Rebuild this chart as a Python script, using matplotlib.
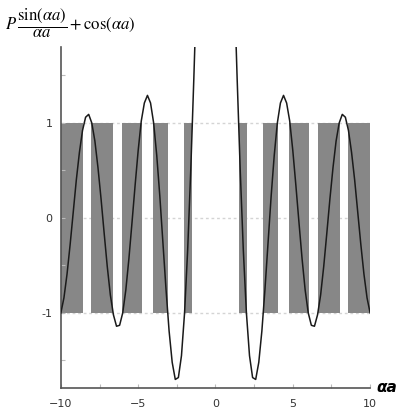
import numpy as np
import matplotlib
matplotlib.use('Agg')
import matplotlib.pyplot as plt

plt.rcParams['mathtext.fontset'] = 'stix'

# curve (right half, x >= 1); the curve is even, left half mirrors it
x_right = [1, 1.2, 1.4, 1.6, 1.8, 2, 2.2, 2.4, 2.6, 2.8, 3, 3.2, 3.4, 3.6, 3.8, 4,
           4.2, 4.4, 4.6, 4.8, 5, 5.2, 5.4, 5.6, 5.8, 6, 6.2, 6.4, 6.6, 6.8, 7, 7.2,
           7.4, 7.6, 7.8, 8, 8.2, 8.4, 8.6, 8.8, 9, 9.2, 9.4, 9.6, 9.8, 10]
y_right = [3.57, 2.52, 1.47, 0.50, -0.34, -1.00, -1.45, -1.68, -1.70, -1.52, -1.19,
           -0.75, -0.26, 0.23, 0.66, 1.00, 1.21, 1.29, 1.21, 1.02, 0.71, 0.34, -0.05,
           -0.43, -0.76, -1.00, -1.13, -1.14, -1.02, -0.81, -0.51, -0.16, 0.20, 0.53,
           0.81, 1.00, 1.09, 1.06, 0.92, 0.69, 0.40, 0.06, -0.28, -0.59, -0.84, -1.00]

# allowed bands (gray)
band_lo = [-10, -8.04, -6.03, -4.02, -2.02, 1.50, 3.10, 4.76, 6.63, 8.54]
band_hi = [-8.54, -6.63, -4.76, -3.10, -1.50, 2.02, 4.02, 6.03, 8.04, 10]

x_ticks = [-10, -5, 0, 5, 10]
y_ticks = [-1, 0, 1]

fig = plt.figure(figsize=(4.14, 4.19), dpi=100)
ax = fig.add_axes([0.147, 0.074, 0.747, 0.814])

for y in y_ticks:
    ax.axhline(y, color='#d4d4d4', lw=1, ls=(0, (2, 2)), zorder=0)

for lo, hi in zip(band_lo, band_hi):
    ax.fill_between([lo, hi], -1, 1, color='#878787', lw=0, zorder=1)

xr = np.array(x_right)
yr = np.array(y_right)
ax.plot(xr, yr, color='#1a1a1a', lw=1.1, zorder=3)
ax.plot(-xr, yr, color='#1a1a1a', lw=1.1, zorder=3)

ax.set_xlim(-10, 10)
ax.set_ylim(-1.79, 1.8)

for s in ['top', 'right']:
    ax.spines[s].set_visible(False)
for s in ['left', 'bottom']:
    ax.spines[s].set_color('#555555')
    ax.spines[s].set_linewidth(1.2)

ax.set_xticks(x_ticks)
ax.set_xticks([-7.5, -2.5, 2.5, 7.5], minor=True)
ax.set_yticks(y_ticks)
ax.set_yticks([-1.5, -0.5, 0.5, 1.5], minor=True)
ax.set_yticklabels(['-1', '0', '1'])
ax.tick_params(which='both', direction='in', color='#bbbbbb', length=3, width=0.8)
ax.tick_params(axis='x', labelsize=8, pad=8, labelcolor='#333333')
ax.tick_params(axis='y', labelsize=8, pad=6, labelcolor='#333333')

ax.text(1.02, 0.0, 'αa', transform=ax.transAxes, ha='left', va='center',
        fontsize=11, fontweight='bold', fontstyle='italic', family='DejaVu Sans')

fig.text(0.012, 0.945,
         r'$P\,\dfrac{\sin(\alpha a)}{\alpha a}+\cos(\alpha a)$',
         fontsize=12, ha='left', va='center')

fig.savefig('out.png', dpi=100)
